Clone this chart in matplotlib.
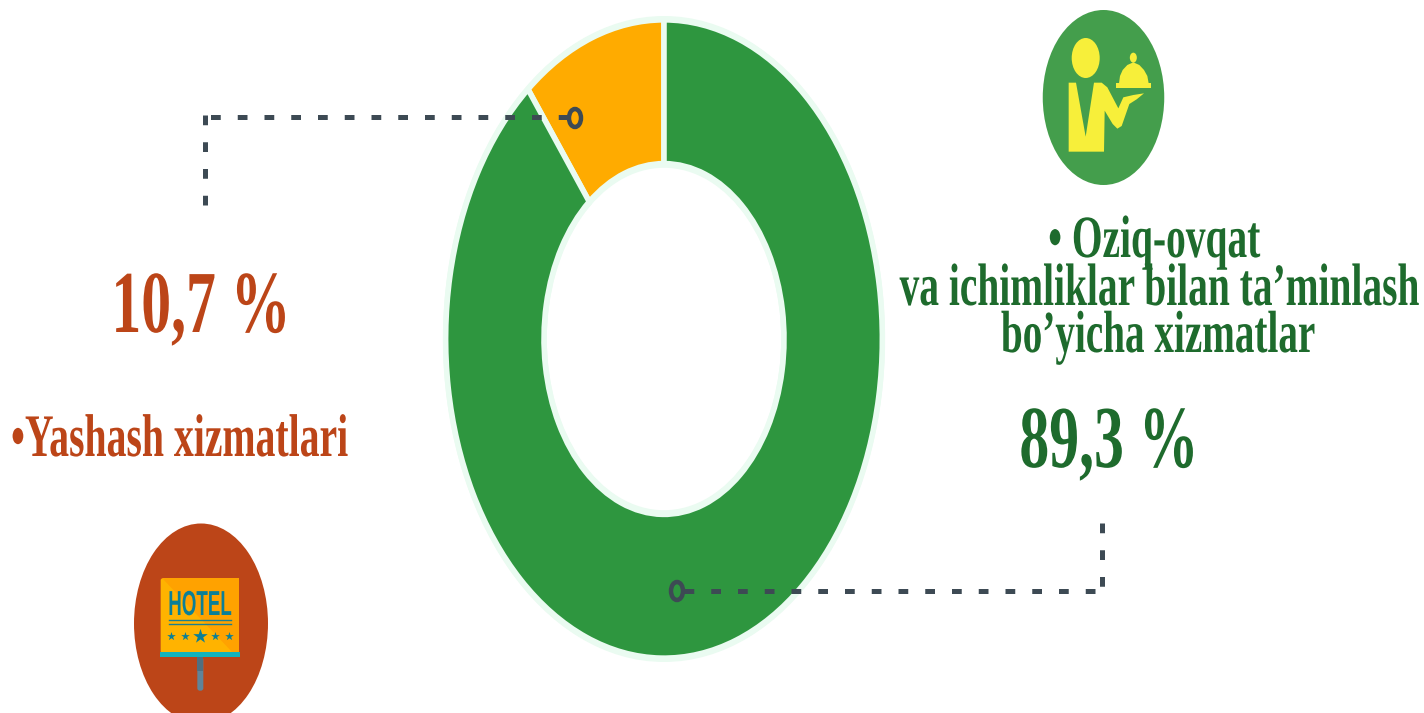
import matplotlib
matplotlib.use("Agg")
import matplotlib.pyplot as plt
from matplotlib.patches import Ellipse, Polygon, Rectangle, FancyBboxPatch
from matplotlib.patheffects import AbstractPathEffect
from matplotlib.transforms import Affine2D

categories = ["Yashash xizmatlari", "Oziq-ovqat va ichimliklar bilan ta\u2019minlash bo\u2019yicha xizmatlar"]
shares = [10.7, 89.3]
share_labels = ["10,7 %", "89,3 %"]
slice_colors = ["#FFAB00", "#2E963F"]
EDGE = "#EAFBF1"
RED = "#BC4518"
GREEN = "#1E6B2D"
LEADER = "#3D4A54"
W, H = 1424, 713


class Stretch(AbstractPathEffect):
    def __init__(self, sx, sy):
        super().__init__()
        self.sx, self.sy = sx, sy

    def draw_path(self, renderer, gc, tpath, affine, rgbFace=None):
        renderer.draw_path(gc, tpath, Affine2D().scale(self.sx, self.sy) + affine, rgbFace)


fig = plt.figure(figsize=(W / 100, H / 100), dpi=100, facecolor="white")

# donut, in an axes that stretches the circle into the reference's ellipse
cx, cy, rx, ry = 664, 339, 221, 323
dax = fig.add_axes([(cx - rx) / W, 1 - (cy + ry) / H, 2 * rx / W, 2 * ry / H])
dax.pie([sum(shares)], radius=1.0, colors=[EDGE], wedgeprops=dict(width=0.47), startangle=90)
dax.pie(shares, radius=0.988, colors=slice_colors, startangle=90, counterclock=True,
        wedgeprops=dict(width=0.445, edgecolor=EDGE, linewidth=4.0))
dax.set_aspect("auto")
dax.set_xlim(-1, 1)
dax.set_ylim(-1, 1)
dax.axis("off")

# overlay in pixel coordinates
ax = fig.add_axes([0, 0, 1, 1], zorder=5)
ax.set_xlim(0, W)
ax.set_ylim(H, 0)
ax.axis("off")
ax.patch.set_alpha(0)


def txt(x, y, s, size, color, sy=1.5, family="Liberation Serif"):
    t = ax.text(x, y, s, fontsize=size, color=color, ha="center", va="baseline",
                family=family, fontweight="bold")
    t.set_path_effects([Stretch(1.0, sy)])
    return t


txt(201, 332, share_labels[0], 43, RED, sy=1.48)
txt(180, 456, "\u2022Yashash xizmatlari", 28.6, RED, sy=1.52)
txt(1154, 257, "\u2022 Oziq-ovqat", 28.4, GREEN, sy=1.52)
txt(1159, 305, "va ichimliklar bilan ta\u2019minlash", 28.4, GREEN, sy=1.52)
txt(1158, 352, "bo\u2019yicha xizmatlar", 28.2, GREEN, sy=1.52)
txt(1109, 467, share_labels[1], 43, GREEN, sy=1.48)

# leaders
lk = dict(color=LEADER, lw=3.6, dash_capstyle="butt", dash_joinstyle="miter", dashes=(1.95, 3.4))
ax.plot([568, 203], [117, 117], **lk)
ax.plot([205, 205], [205, 115], **lk)
ax.plot([684, 1104], [591, 591], **lk)
ax.plot([1102, 1102], [523, 593], **lk)
for (x, y) in [(575, 118), (677, 591)]:
    ax.add_patch(Ellipse((x, y), 12, 18, fc="none", ec=LEADER, lw=3.2))

# waiter icon
def wz(pts):
    return [(1020 + a / 3, b / 3) for a, b in pts]


ax.add_patch(Ellipse((1103.5, 97.5), 121.5, 175, fc="#449E4C", ec="none"))
YEL = "#F7EF3A"
ax.add_patch(Ellipse((1085.7, 58), 28, 40, fc=YEL, ec="none"))
ax.add_patch(Polygon(wz([(146, 248), (168, 248), (197, 410), (222, 248), (245, 248), (262, 262), (295, 325),
                         (310, 292), (340, 285), (372, 280), (350, 298), (328, 312), (305, 378), (292, 386),
                         (278, 372), (254, 332), (252, 455), (146, 455)]), fc=YEL, ec="none"))
ax.add_patch(Polygon(wz([(297, 250), (300, 228), (308, 210), (322, 195), (340, 187), (358, 195), (372, 210),
                         (382, 228), (386, 250)]), fc=YEL, ec="none"))
ax.add_patch(Rectangle((1020 + 289 / 3, 250 / 3), 103 / 3, 13 / 3, fc=YEL, ec="none"))
ax.add_patch(Ellipse((1020 + 340 / 3, 173 / 3), 7, 10, fc=YEL, ec="none"))

# hotel icon
def hz(pts):
    return [(120 + a / 3, 510 + b / 3) for a, b in pts]


ax.add_patch(Ellipse((201, 623.5), 134, 200, fc=RED, ec="none"))
ax.add_patch(FancyBboxPatch((120 + 122 / 3, 510 + 205 / 3), 234 / 3, 224 / 3,
                            boxstyle="round,pad=0,rounding_size=2", fc="#FFB300", ec="none"))
ax.add_patch(Polygon(hz([(125, 205), (356, 205), (356, 428), (340, 428)]), fc="#FFA200", ec="none"))
ax.add_patch(Rectangle((120 + 120 / 3, 510 + 427 / 3), 240 / 3, 15 / 3, fc="#12B3BC", ec="none"))
ax.add_patch(FancyBboxPatch((120 + 232 / 3, 510 + 442 / 3), 18 / 3, 100 / 3,
                            boxstyle="round,pad=0,rounding_size=2.5", fc="#5F8499", ec="none"))
ax.add_patch(Rectangle((120 + 232 / 3, 510 + 442 / 3), 18 / 3, 42 / 3, fc="#4F6F80", ec="none"))
txt(200, 615, "HOTEL", 13.5, "#0B7F97", sy=1.85, family="Liberation Sans")
for yy in (331, 342):
    ax.plot([120 + 148 / 3, 120 + 332 / 3], [510 + yy / 3] * 2, color="#1A7F8F", lw=1.0)
for zx, s in [(154, 42), (195, 42), (240, 120), (285, 42), (326, 42)]:
    ax.scatter(120 + zx / 3, 510 + 378 / 3, marker="*", s=s, color="#0B7F97", linewidths=0)

fig.savefig("out.png", dpi=100, facecolor="white")
